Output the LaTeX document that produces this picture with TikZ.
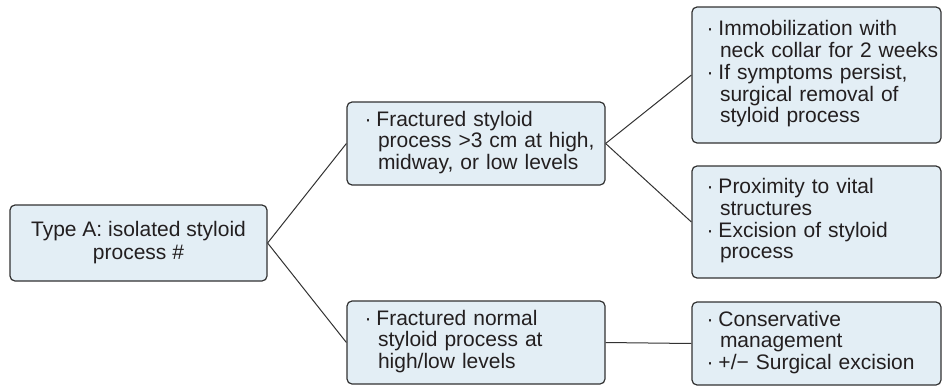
\documentclass[tikz,border=0pt]{standalone}
\usepackage{fontspec}
\setmainfont{Liberation Sans}
\definecolor{boxfill}{RGB}{227,238,245}
\definecolor{boxline}{RGB}{50,50,50}
\definecolor{txt}{RGB}{35,31,32}
\newcommand{\bl}{\hbox to 12.5pt{\hskip0.5pt·\hss}}
\newcommand{\cn}{\hskip1.5pt}
\newenvironment{blist}{\begin{tabular}{@{}l@{}l@{}}}{\end{tabular}}
\begin{document}
\begin{tikzpicture}[x=1pt,y=-1pt,
  box/.style={draw=boxline, fill=boxfill, line width=1.2pt, rounded corners=5pt,
    text=txt, font=\fontsize{21}{21.7}\selectfont, inner ysep=0pt},
  lbox/.style={box, align=left},
  conn/.style={draw=boxline, line width=1pt}]
\useasboundingbox (0,0) rectangle (943,386);
\node[box, minimum width=257pt, minimum height=76pt, align=center, font=\fontsize{21}{23}\selectfont] (a) at (138.5,243)
  {Type A: isolated styloid\\process \#};
\node[lbox, minimum width=258pt, minimum height=83pt, inner xsep=17pt, text width=224pt] (m1) at (476,143.5)
  {\begin{blist}\bl & Fractured styloid\\ & \cn process >3 cm at high,\\ & \cn midway, or low levels\end{blist}};
\node[lbox, minimum width=258pt, minimum height=83pt, inner xsep=17pt, text width=224pt] (m2) at (476,342.5)
  {\begin{blist}\bl & Fractured normal\\ & \cn styloid process at\\ & \cn high/low levels\end{blist}};
\node[lbox, minimum width=249pt, minimum height=136pt, inner xsep=14pt, text width=221pt] (r1) at (816.5,75)
  {\begin{blist}\bl & Immobilization with\\ & \cn neck collar for 2 weeks\\ \bl & If symptoms persist,\\ & \cn surgical removal of\\ & \cn styloid process\end{blist}};
\node[lbox, minimum width=249pt, minimum height=112pt, inner xsep=14pt, text width=221pt] (r2) at (816.5,222)
  {\begin{blist}\bl & Proximity to vital\\ & \cn structures\\ \bl & Excision of styloid\\ & \cn process\end{blist}};
\node[lbox, minimum width=249pt, minimum height=83pt, inner xsep=14pt, text width=221pt] (r3) at (816.5,343.5)
  {\begin{blist}\bl & Conservative\\ & \cn management\\ \bl & +/− Surgical excision\end{blist}};
\draw[conn] (a.east) -- (m1.west);
\draw[conn] (a.east) -- (m2.west);
\draw[conn] (m1.east) -- (r1.west);
\draw[conn] (m1.east) -- (r2.west);
\draw[conn] (m2.east) -- (r3.west);
\end{tikzpicture}
\end{document}
